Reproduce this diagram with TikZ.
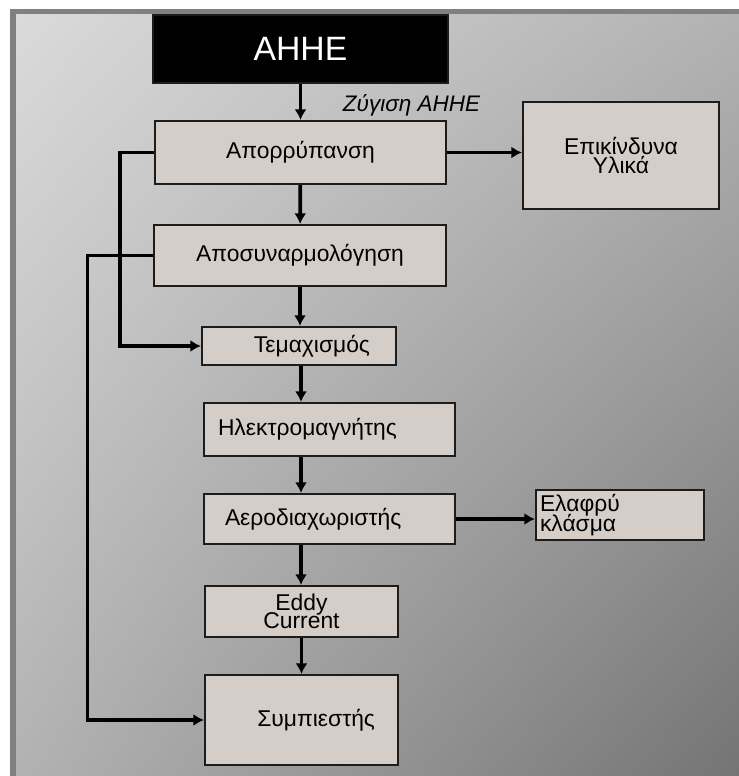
\documentclass[tikz,border=0pt]{standalone}
\usepackage{fontspec}
\setmainfont{Liberation Sans}
\usepackage{xcolor}
\usepackage{tikz}
\usetikzlibrary{calc}
\usetikzlibrary{arrows.meta}
\usetikzlibrary{positioning}
\usetikzlibrary{shadings}
\definecolor{boxfill}{RGB}{213,205,199}
\definecolor{framegray}{RGB}{128,128,128}
\definecolor{edgegray}{RGB}{28,28,28}
\definecolor{panellight}{RGB}{218,218,218}
\definecolor{panelmid}{RGB}{178,178,178}
\definecolor{paneldark}{RGB}{116,116,116}
\newcommand{\stagefont}{\fontsize{6.5}{5.2}\selectfont\lineskiplimit=-10pt\relax}
\tikzset{>=latex}
\tikzstyle{stage} = [rectangle, draw = edgegray, line width = .6pt, fill = boxfill, inner sep = 1, align = center, font = \stagefont]
\tikzstyle{flow} = [-{Latex[length=3pt, width=3.4pt]}, line width = 1.05pt]

\begin{document}
\begin{tikzpicture}
\useasboundingbox (0, 0) rectangle (7.39, -7.76);
% panel
\fill [white] (0, 0) rectangle (7.39, -7.76);
\shade [upper left = panellight, upper right = panelmid, lower left = panelmid, lower right = paneldark] (.16, -.14) rectangle (7.39, -7.76);
\fill [framegray] (.10, -.09) rectangle (7.39, -.14);
\fill [framegray] (.10, -.09) rectangle (.16, -7.76);
\coordinate (spine) at (3.01, 0);
\node [stage, fill = black, text = white, minimum width = 2.95cm, minimum height = .68cm, font = \fontsize{9.6}{10}\selectfont] (ahhe) at (3.005, -.49) {ΑΗΗΕ};
\node [draw = none, inner sep = 1, font = \fontsize{6.4}{7}\itshape] (weigh) at (4.115, -1.05) {Ζύγιση ΑΗΗΕ};
\node [stage, minimum width = 2.91cm, minimum height = .63cm] (apor) at (3.005, -1.525) {Απορρύπανση};
\node [stage, minimum width = 1.96cm, minimum height = 1.07cm] (epik) at (6.21, -1.555) {Επικίνδυνα\\Υλικά};
\node [stage, minimum width = 2.92cm, minimum height = .61cm] (aposyn) at (3.00, -2.555) {Αποσυναρμολόγηση};
\node [stage, minimum width = 1.94cm, minimum height = .38cm, align = right, text width = 1.42cm] (temax) at (2.99, -3.46) {Τεμαχισμός};
\node [stage, minimum width = 2.51cm, minimum height = .53cm, align = left, text width = 2.23cm] (ilek) at (3.295, -4.295) {Ηλεκτρομαγνήτης};
\node [stage, minimum width = 2.51cm, minimum height = .50cm, align = left, text width = 2.09cm] (aero) at (3.295, -5.19) {Αεροδιαχωριστής};
\node [stage, minimum width = 1.68cm, minimum height = .50cm, align = left, text width = 1.6cm, font = \stagefont\fontsize{6.5}{5.8}\selectfont] (elafry) at (6.20, -5.15) {Ελαφρύ\\κλάσμα};
\node [stage, minimum width = 1.93cm, minimum height = .51cm] (eddy) at (3.015, -6.115) {Eddy\\Current};
\node [stage, minimum width = 1.93cm, minimum height = .90cm, align = right, text width = 1.47cm] (symp) at (3.015, -7.20) {Συμπιεστής};
\draw [flow] (ahhe) -- (apor);
\draw [flow] (apor) -- (aposyn);
\draw [flow] (aposyn) -- (temax.north -| aposyn);
\draw [flow] (temax.south -| spine) -- (ilek.north -| spine);
\draw [flow] (ilek.south -| spine) -- (aero.north -| spine);
\draw [flow] (aero.south -| spine) -- (eddy.north -| spine);
\draw [flow] (eddy) -- (symp);
\draw [flow] (apor.east) -- (apor.east -| epik.west);
\draw [flow] (aero.east) -- (aero.east -| elafry.west);
\draw [flow] (apor.west) -- ++(-.34, 0) |- (temax.west);
\draw [flow] (aposyn.west) -- ++(-.655, 0) |- (symp.west);
\end{tikzpicture}
\end{document}
